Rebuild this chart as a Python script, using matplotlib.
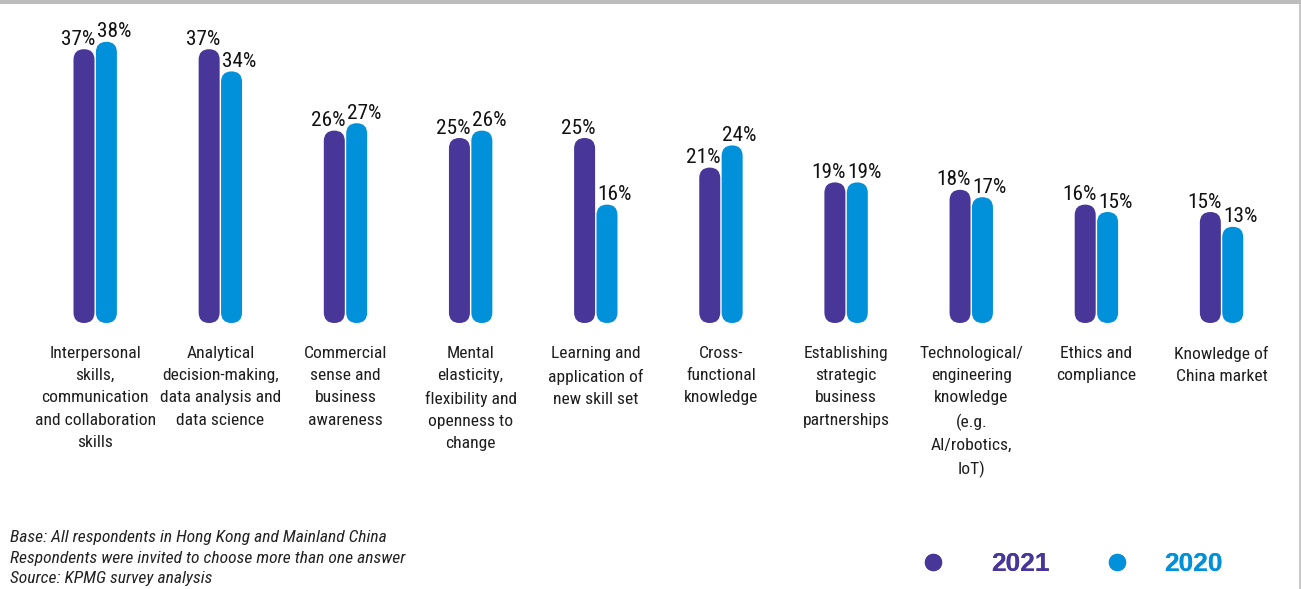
import matplotlib
matplotlib.use("Agg")
import matplotlib.pyplot as plt
from matplotlib import font_manager
from matplotlib.patches import FancyBboxPatch, Rectangle
from matplotlib.lines import Line2D

# ---- data -------------------------------------------------------------
categories = [
    "Interpersonal\nskills,\ncommunication\nand collaboration\nskills",
    "Analytical\ndecision-making,\ndata analysis and\ndata science",
    "Commercial\nsense and\nbusiness\nawareness",
    "Mental\nelasticity,\nflexibility and\nopenness to\nchange",
    "Learning and\napplication of\nnew skill set",
    "Cross-\nfunctional\nknowledge",
    "Establishing\nstrategic\nbusiness\npartnerships",
    "Technological/\nengineering\nknowledge\n(e.g.\nAI/robotics,\nIoT)",
    "Ethics and\ncompliance",
    "Knowledge of\nChina market",
]
values_2021 = [37, 37, 26, 25, 25, 21, 19, 18, 16, 15]
values_2020 = [38, 34, 27, 26, 16, 24, 19, 17, 15, 13]
series_names = ["2021", "2020"]
footnotes = [
    "Base: All respondents in Hong Kong and Mainland China",
    "Respondents were invited to choose more than one answer",
    "Source: KPMG survey analysis",
]

PURPLE = "#483698"
BLUE = "#0091DA"
TEXT = "#1e1e1e"

# ---- fonts ------------------------------------------------------------
available = {f.name for f in font_manager.fontManager.ttflist}
narrow = next((n for n in ["Liberation Sans Narrow", "Roboto Condensed",
                           "Open Sans Condensed"] if n in available), None)
if narrow is None:
    narrow = "Liberation Sans"
    scale = 0.84
else:
    scale = 1.0

# ---- figure / axes geometry ------------------------------------------
W, H, DPI = 1301, 589, 100
fig = plt.figure(figsize=(W / DPI, H / DPI), dpi=DPI)
ax = fig.add_axes([0, 0, 1, 1])

first_center_px = 95.2
step_px = 125.15
zero_px = 323.0          # baseline of the bars, from top
pct_px = 7.4             # pixels per percentage point

ax.set_xlim(-first_center_px / step_px, (W - first_center_px) / step_px)
ax.set_ylim(-(H - zero_px) / pct_px, zero_px / pct_px)
ax.axis("off")

bar_w = 21.0 / step_px
offset = 11.2 / step_px
aspect = step_px / pct_px   # data-y per data-x for equal pixel lengths


def rounded_bar(xc, value, color):
    patch = FancyBboxPatch(
        (xc - bar_w / 2, 0), bar_w, value,
        boxstyle=f"round,pad=0,rounding_size={bar_w / 2}",
        mutation_aspect=aspect, fc=color, ec="none",
    )
    ax.add_patch(patch)


for i, (v21, v20) in enumerate(zip(values_2021, values_2020)):
    x21, x20 = i - offset, i + offset
    rounded_bar(x21, v21, PURPLE)
    rounded_bar(x20, v20, BLUE)
    ax.annotate(f"{v21}%", xy=(x21, v21), xytext=(-6, 4.5),
                textcoords="offset pixels", ha="center", va="baseline",
                fontsize=15.3 * scale, family=narrow, color="#111111")
    ax.annotate(f"{v20}%", xy=(x20, v20), xytext=(7.5, 4.5),
                textcoords="offset pixels", ha="center", va="baseline",
                fontsize=15.3 * scale, family=narrow, color="#111111")
    ax.text(i, -(346 - zero_px) / pct_px, categories[i],
            ha="center", va="top", multialignment="center",
            fontsize=12.6 * scale, family=narrow, color=TEXT,
            linespacing=1.6)

# ---- footnote ---------------------------------------------------------
# multi-line text with baseline alignment anchors the last line
fig.text(10 / W, 1 - 583 / H, "\n".join(footnotes), ha="left",
         va="baseline", fontsize=12.6 * scale, family=narrow,
         style="italic", color="#222222", linespacing=1.45)

# ---- legend -----------------------------------------------------------
for name, color, dot_px, pad in [(series_names[0], PURPLE, 933, 1.2),
                                 (series_names[1], BLUE, 1117, 0.78)]:
    handle = Line2D([], [], marker="o", linestyle="none", color=color,
                    markersize=11.5)
    leg = fig.legend([handle], [name], loc="center left",
                     bbox_to_anchor=((dot_px - 26.5) / W, 1 - 564 / H),
                     frameon=False, borderpad=0, borderaxespad=0,
                     handlelength=2.0, handletextpad=pad,
                     prop={"family": "Liberation Sans", "weight": "bold",
                           "size": 19})
    for t in leg.get_texts():
        t.set_color(color)
    fig.add_artist(leg)

# ---- frame lines ------------------------------------------------------
fig.add_artist(Rectangle((0, 1 - 3.5 / H), 1, 3.5 / H,
                         transform=fig.transFigure, fc="#bdbdbd", ec="none"))
fig.add_artist(Line2D([1299.5 / W, 1299.5 / W], [0, 1],
                      transform=fig.transFigure, color="#bdbdbd", lw=1.2))

fig.savefig("out.png", dpi=DPI)
